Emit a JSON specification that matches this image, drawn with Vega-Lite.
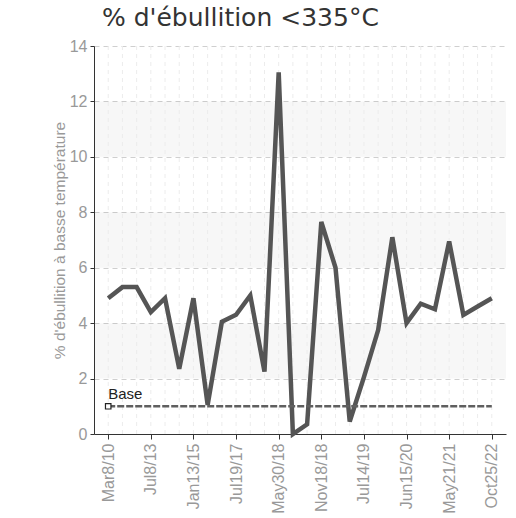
{
  "$schema": "https://vega.github.io/schema/vega-lite/v6.json",
  "width": 412,
  "height": 388,
  "autosize": "none",
  "padding": {"left": 94, "top": 46, "right": 10, "bottom": 84},
  "background": "white",
  "title": {
    "text": "% d'ébullition <335°C",
    "anchor": "start",
    "frame": "group",
    "font": "DejaVu Sans",
    "fontSize": 25,
    "fontWeight": "normal",
    "color": "#333333",
    "dx": 8,
    "offset": 7
  },
  "config": {
    "view": {"stroke": null},
    "axis": {
      "labelFont": "Liberation Sans",
      "labelFontSize": 16,
      "labelColor": "#999999",
      "titleFont": "Liberation Sans",
      "titleFontSize": 15.5,
      "titleFontWeight": "normal",
      "titleColor": "#999999",
      "domainColor": "#333333",
      "tickColor": "#333333",
      "gridColor": "#cfcfcf",
      "gridDash": [5, 4],
      "tickSize": 5
    }
  },
  "datasets": {
    "series": [
      {"date": "Mar8/10", "value": 4.9},
      {"date": "Jan15/11", "value": 5.3},
      {"date": "Jun20/12", "value": 5.3},
      {"date": "Jul8/13", "value": 4.4},
      {"date": "Jan20/14", "value": 4.9},
      {"date": "Jun9/14", "value": 2.35},
      {"date": "Jan13/15", "value": 4.9},
      {"date": "Jul21/15", "value": 1.05},
      {"date": "Mar3/16", "value": 4.05},
      {"date": "Jul19/17", "value": 4.3},
      {"date": "Oct11/17", "value": 5.0},
      {"date": "Feb5/18", "value": 2.25},
      {"date": "May30/18", "value": 13.05},
      {"date": "Jul17/18", "value": 0.0},
      {"date": "Sep25/18", "value": 0.35},
      {"date": "Nov18/18", "value": 7.65},
      {"date": "Jan29/19", "value": 6.0},
      {"date": "Apr8/19", "value": 0.45},
      {"date": "Jul14/19", "value": 2.05},
      {"date": "Oct21/19", "value": 3.75},
      {"date": "Feb10/20", "value": 7.1},
      {"date": "Jun15/20", "value": 4.0},
      {"date": "Sep28/20", "value": 4.7},
      {"date": "Jan18/21", "value": 4.5},
      {"date": "May21/21", "value": 6.95},
      {"date": "Sep13/21", "value": 4.3},
      {"date": "Mar7/22", "value": 4.6},
      {"date": "Oct25/22", "value": 4.9}
    ],
    "bands": [
      {"y0": 2, "y1": 4},
      {"y0": 6, "y1": 8},
      {"y0": 10, "y1": 12}
    ],
    "base": [
      {"label": "Base", "start": "Mar8/10", "end": "Oct25/22", "level": 1}
    ]
  },
  "layer": [
    {
      "data": {"name": "bands"},
      "mark": {"type": "rect", "fill": "#000000", "opacity": 0.03},
      "encoding": {
        "y": {
          "field": "y0",
          "type": "quantitative",
          "scale": {"domain": [0, 14], "nice": false},
          "title": "% d'ébullition à basse température",
          "axis": {"values": [0, 2, 4, 6, 8, 10, 12, 14], "labelPadding": 3, "titlePadding": 2, "tickSize": 4}
        },
        "y2": {"field": "y1"}
      }
    },
    {
      "data": {"name": "series"},
      "mark": {"type": "rule", "stroke": "#ececec", "strokeDash": [4, 4], "strokeWidth": 1},
      "encoding": {
        "x": {
          "field": "date",
          "type": "ordinal",
          "sort": null,
          "scale": {"type": "point", "padding": 1.07, "domain": ["Mar8/10", "Jan15/11", "Jun20/12", "Jul8/13", "Jan20/14", "Jun9/14", "Jan13/15", "Jul21/15", "Mar3/16", "Jul19/17", "Oct11/17", "Feb5/18", "May30/18", "Jul17/18", "Sep25/18", "Nov18/18", "Jan29/19", "Apr8/19", "Jul14/19", "Oct21/19", "Feb10/20", "Jun15/20", "Sep28/20", "Jan18/21", "May21/21", "Sep13/21", "Mar7/22", "Oct25/22"]},
          "title": null,
          "axis": {"values": ["Mar8/10", "Jul8/13", "Jan13/15", "Jul19/17", "May30/18", "Nov18/18", "Jul14/19", "Jun15/20", "May21/21", "Oct25/22"], "labelAngle": 270, "labelPadding": 4}
        }
      }
    },
    {
      "data": {"name": "series"},
      "mark": {"type": "line", "color": "#555555", "strokeWidth": 4.5, "strokeJoin": "miter"},
      "encoding": {
        "x": {
          "field": "date",
          "type": "ordinal",
          "sort": null,
          "scale": {"type": "point", "padding": 1.07, "domain": ["Mar8/10", "Jan15/11", "Jun20/12", "Jul8/13", "Jan20/14", "Jun9/14", "Jan13/15", "Jul21/15", "Mar3/16", "Jul19/17", "Oct11/17", "Feb5/18", "May30/18", "Jul17/18", "Sep25/18", "Nov18/18", "Jan29/19", "Apr8/19", "Jul14/19", "Oct21/19", "Feb10/20", "Jun15/20", "Sep28/20", "Jan18/21", "May21/21", "Sep13/21", "Mar7/22", "Oct25/22"]},
          "title": null,
          "axis": {"values": ["Mar8/10", "Jul8/13", "Jan13/15", "Jul19/17", "May30/18", "Nov18/18", "Jul14/19", "Jun15/20", "May21/21", "Oct25/22"], "labelAngle": 270, "labelPadding": 4}
        },
        "y": {
          "field": "value",
          "type": "quantitative",
          "scale": {"domain": [0, 14], "nice": false},
          "title": "% d'ébullition à basse température",
          "axis": {"values": [0, 2, 4, 6, 8, 10, 12, 14], "labelPadding": 3, "titlePadding": 2, "tickSize": 4}
        }
      }
    },
    {
      "data": {"name": "base"},
      "mark": {"type": "rule", "stroke": "#5f5f5f", "strokeWidth": 2.5, "strokeDash": [7, 2]},
      "encoding": {
        "x": {"field": "start", "type": "ordinal", "sort": null},
        "x2": {"field": "end"},
        "y": {"field": "level", "type": "quantitative"}
      }
    },
    {
      "data": {"name": "base"},
      "mark": {"type": "point", "shape": "square", "size": 30, "filled": true, "fill": "white", "stroke": "#222222", "strokeWidth": 1.2, "opacity": 1},
      "encoding": {
        "x": {"field": "start", "type": "ordinal", "sort": null},
        "y": {"field": "level", "type": "quantitative"}
      }
    },
    {
      "data": {"name": "base"},
      "mark": {"type": "text", "align": "left", "baseline": "alphabetic", "dx": 0, "dy": -7, "font": "Liberation Sans", "fontSize": 15, "color": "#222222"},
      "encoding": {
        "x": {"field": "start", "type": "ordinal", "sort": null},
        "y": {"field": "level", "type": "quantitative"},
        "text": {"field": "label"}
      }
    }
  ]
}
